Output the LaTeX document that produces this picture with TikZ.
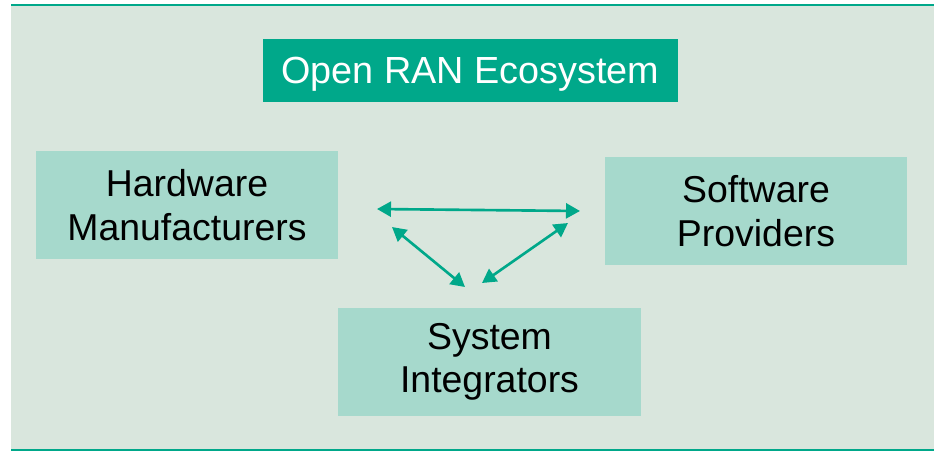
\documentclass[tikz,border=0pt]{standalone}
\usepackage{fontspec}
\setmainfont{Liberation Sans}
\usetikzlibrary{arrows.meta}
\definecolor{ecoback}{HTML}{D9E6DD}
\definecolor{ecoteal}{HTML}{00A88A}
\definecolor{ecobox}{HTML}{A6D9CC}

\begin{document}
\begin{tikzpicture}[x=0.02cm, y=-0.02cm,
    partner/.style={fill=ecobox, minimum width=6.06cm, minimum height=2.16cm,
      inner sep=0pt, align=center, font=\fontsize{21.3}{24.8}\selectfont},
    link/.style={draw=ecoteal, line width=1.5pt,
      {Triangle[length=0.28cm, width=0.3cm]}-{Triangle[length=0.28cm, width=0.3cm]}}]
  \useasboundingbox (0,0) rectangle (934,451);
  \fill[ecoback] (11,5) rectangle (934,450);
  \draw[ecoteal, line width=1.4pt] (11,5) -- (934,5);
  \draw[ecoteal, line width=1.4pt] (11,450) -- (934,450);

  \node[fill=ecoteal, text=white, minimum width=8.3cm, minimum height=1.26cm, inner sep=0pt,
    text depth=0pt, font=\fontsize{21.5}{24.8}\selectfont] (title) at (470.5,70.5) {Open RAN Ecosystem};

  \node[partner] (hardware) at (187,205) {Hardware\\Manufacturers};
  \node[partner] (software) at (756,211) {Software\\Providers};
  \node[partner] (integrator) at (489.5,362) {System\\Integrators};

  % arrow ends between the boxes
  \coordinate (hwR) at (377,209);
  \coordinate (swL) at (580,211);
  \coordinate (hwD) at (392,227);
  \coordinate (siL) at (465,287);
  \coordinate (swD) at (568,223);
  \coordinate (siR) at (482,283);

  \draw[link] (hwR) -- (swL);
  \draw[link] (hwD) -- (siL);
  \draw[link] (swD) -- (siR);
\end{tikzpicture}
\end{document}
